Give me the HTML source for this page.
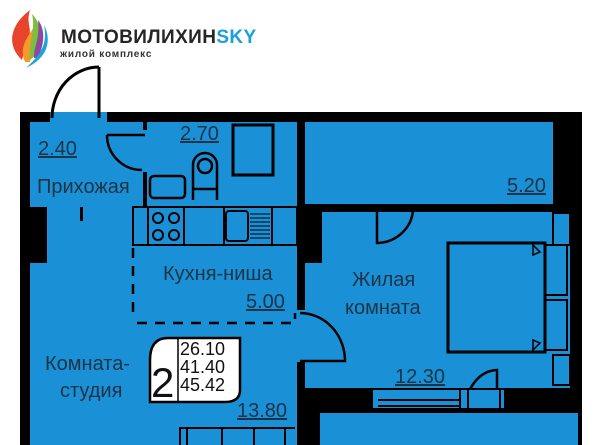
<!DOCTYPE html>
<html><head><meta charset="utf-8"><style>
html,body{margin:0;padding:0;background:#fff;width:601px;height:445px;overflow:hidden}
svg{display:block}
text{font-family:"Liberation Sans",sans-serif;fill:#1d3346}
</style></head><body>
<svg width="601" height="445" viewBox="0 0 601 445" xmlns="http://www.w3.org/2000/svg">
<path d="M22 60 C6 45 10 25 30 10 C25 25 35 30 26 45 Z" fill="#e8442c"/>
<path d="M25 62 C18 45 30 35 35 25 C38 38 32 50 30 62 Z" fill="#f39a2a"/>
<path d="M30 60 C28 45 36 30 32 14 C44 26 40 42 36 55 Z" fill="#7bbf3a"/>
<path d="M34 58 C34 45 40 40 38 20 C46 30 44 45 38 58 Z" fill="#8b4aa0"/>
<path d="M26 68 C40 55 48 45 44 25 C52 40 48 58 26 68 Z" fill="#1fa3dc"/>
<text x="61" y="43" style="font-size:19px;font-weight:bold;fill:#262626;letter-spacing:0.4px">МОТОВИЛИХИН<tspan style="fill:#1aa0d9">SKY</tspan></text>
<text x="60" y="57" style="font-size:10px;font-weight:bold;fill:#333;letter-spacing:0.8px">жилой комплекс</text>

<rect x="20" y="112" width="562" height="333" fill="#000"/>
<g fill="#1a90d6">
<rect x="30" y="122" width="267" height="85"/>
<rect x="47" y="207" width="250" height="56"/>
<rect x="30" y="263" width="267" height="182"/>
<rect x="305" y="122" width="248" height="82"/>
<rect x="322" y="212" width="248" height="176"/>
<rect x="305" y="263" width="20" height="125"/>
<rect x="320" y="413" width="258" height="32"/>
<rect x="297" y="310" width="10" height="52"/>
</g>
<rect x="50" y="110" width="57" height="13" fill="#1a90d6"/>
<rect x="50" y="100" width="57" height="12" fill="#fff"/>
<g fill="none" stroke="#000" stroke-width="3">
<path d="M99 118 V67 M52 118 A47 51 0 0 1 99 67"/>
</g>
<rect x="30" y="207" width="17" height="56" fill="#000"/>
<rect x="80" y="207" width="3" height="14" fill="#000"/>
<rect x="143" y="122" width="4" height="8" fill="#000"/>
<rect x="143" y="172" width="4" height="35" fill="#000"/>
<g fill="none" stroke="#000" stroke-width="2.5">
<path d="M107 135 H145 M107 135 A35 35 0 0 0 142 170"/>
<rect x="233" y="125" width="40" height="50" stroke-width="3"/>
<path d="M193 200 V165 A12 12 0 0 1 217 165 V200" />
<circle cx="205" cy="166" r="7"/>
<path d="M193 189 H217"/>
<rect x="150" y="176" width="35" height="22" rx="4"/>
<rect x="133" y="207" width="164" height="38" stroke-width="2"/>
<path d="M148 207 V245 M184 207 V245 M224 207 V245 M272 207 V245" stroke-width="2"/>
<circle cx="158" cy="218" r="5" stroke-width="2"/><circle cx="174" cy="218" r="5" stroke-width="2"/>
<circle cx="158" cy="235" r="5" stroke-width="2"/><circle cx="174" cy="235" r="5" stroke-width="2"/>
<rect x="226" y="211" width="22" height="30" rx="3" stroke-width="2"/>
<path d="M250 214 H270 M250 218 H270 M250 222 H270 M250 226 H270 M250 230 H270 M250 234 H270 M250 238 H270" stroke-width="1"/>
<path d="M133 248 V320 M137 323 H295 V313" stroke-dasharray="10 8" stroke-width="2.5"/>
<path d="M300 313 A45 48 0 0 1 345 361 H300" />
<path d="M377 207 V243 A37 35 0 0 0 413 209"/>
<rect x="448" y="243" width="97" height="109" stroke-width="3"/>
<rect x="545" y="245" width="22" height="50" stroke-width="2"/>
<rect x="545" y="300" width="22" height="50" stroke-width="2"/>
<rect x="553" y="213" width="17" height="32" stroke-width="2"/>
<rect x="553" y="355" width="17" height="30" stroke-width="2"/>
<path d="M533 245 L540 252 L533 255 Z M533 350 L540 343 L533 340 Z" stroke-width="1.5"/>
<path d="M466 408 A32 38 0 0 1 497 370 V408" />
<path d="M180 445 V428 H295 M187 428 V445 M222 428 V445 M254 428 V445 M285 428 V445" stroke-width="2"/>
</g>
<rect x="372" y="389" width="133" height="20" fill="#1a90d6"/>
<g fill="none" stroke="#000" stroke-width="2">
<rect x="372" y="389" width="133" height="20"/>
<path d="M378 400 H460 M378 406 H460 M460 389 V410 M468 389 V410 M500 389 V410"/>
</g>
<path d="M168 338 H240 V390 Q240 402 225 402 H150 V360 Q150 338 168 338 Z" fill="#fff" stroke="#000" stroke-width="2.5"/>
<line x1="178" y1="339" x2="178" y2="401" stroke="#000" stroke-width="1.5"/>
<text x="151" y="397" style="font-size:42px;fill:#111">2</text>
<text x="180" y="355" style="font-size:18px;fill:#111">26.10</text>
<text x="180" y="373" style="font-size:18px;fill:#111">41.40</text>
<text x="180" y="391" style="font-size:18px;fill:#111">45.42</text>
<g style="font-size:20px">
<text x="38" y="155" text-decoration="underline">2.40</text>
<text x="37" y="193">Прихожая</text>
<text x="180" y="140" text-decoration="underline">2.70</text>
<text x="507" y="192" text-decoration="underline">5.20</text>
<text x="163" y="280">Кухня-ниша</text>
<text x="246" y="308" text-decoration="underline">5.00</text>
<text x="352" y="286">Жилая</text>
<text x="345" y="314">комната</text>
<text x="45" y="370">Комната-</text>
<text x="60" y="397">студия</text>
<text x="237" y="417" text-decoration="underline">13.80</text>
<text x="395" y="383" text-decoration="underline">12.30</text>
</g>
</svg>
</body></html>
